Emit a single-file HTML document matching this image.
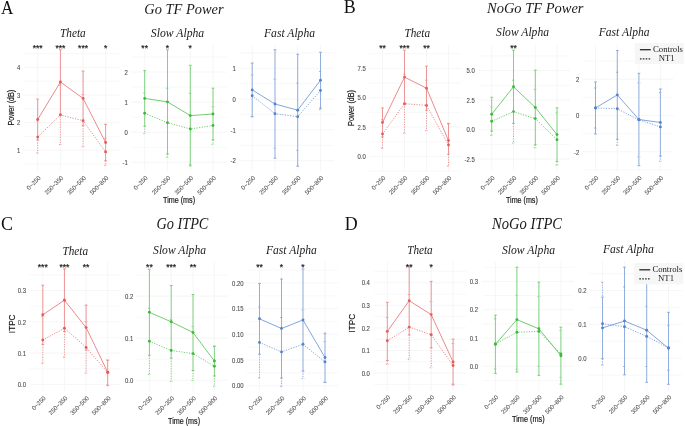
<!DOCTYPE html>
<html><head><meta charset="utf-8"><title>figure</title>
<style>
html,body{margin:0;padding:0;background:#fff;}
body{width:685px;height:426px;overflow:hidden;}
svg{display:block;will-change:transform;}
text{font-family:"Liberation Sans",sans-serif;}
.tk{font-size:6.4px;fill:#4d4d4d;stroke:#4d4d4d;stroke-width:0.1px;}
.xt{font-size:6.0px;fill:#4d4d4d;stroke:#4d4d4d;stroke-width:0.05px;}
.st{font-size:8.6px;fill:#222;stroke:#222;stroke-width:0.2px;}
.pt{font-family:"Liberation Serif",serif;font-style:italic;font-size:12.4px;fill:#1a1a1a;}
.mt{font-family:"Liberation Serif",serif;font-style:italic;font-size:15.2px;fill:#1a1a1a;}
.pl{font-family:"Liberation Serif",serif;font-size:17.9px;fill:#111;}
.at{font-size:8.2px;fill:#151515;stroke:#151515;stroke-width:0.18px;}
.lg{font-family:"Liberation Serif",serif;font-size:8.7px;fill:#1a1a1a;}
</style></head>
<body>
<svg width="685" height="426" viewBox="0 0 685 426">
<rect width="685" height="426" fill="#fff"/>
<line x1="24.1" x2="119.2" y1="164" y2="164" stroke="#f3f3f3" stroke-width="0.55"/>
<line x1="24.1" x2="119.2" y1="136.4" y2="136.4" stroke="#f3f3f3" stroke-width="0.55"/>
<line x1="24.1" x2="119.2" y1="108.8" y2="108.8" stroke="#f3f3f3" stroke-width="0.55"/>
<line x1="24.1" x2="119.2" y1="81.2" y2="81.2" stroke="#f3f3f3" stroke-width="0.55"/>
<line x1="24.1" x2="119.2" y1="53.6" y2="53.6" stroke="#f3f3f3" stroke-width="0.55"/>
<line x1="24.1" x2="119.2" y1="150.2" y2="150.2" stroke="#eeeeee" stroke-width="0.55"/>
<line x1="24.1" x2="119.2" y1="122.6" y2="122.6" stroke="#eeeeee" stroke-width="0.55"/>
<line x1="24.1" x2="119.2" y1="95" y2="95" stroke="#eeeeee" stroke-width="0.55"/>
<line x1="24.1" x2="119.2" y1="67.4" y2="67.4" stroke="#eeeeee" stroke-width="0.55"/>
<line x1="37.7" x2="37.7" y1="44.5" y2="171" stroke="#eeeeee" stroke-width="0.55"/>
<line x1="60.4" x2="60.4" y1="44.5" y2="171" stroke="#eeeeee" stroke-width="0.55"/>
<line x1="83.1" x2="83.1" y1="44.5" y2="171" stroke="#eeeeee" stroke-width="0.55"/>
<line x1="105.6" x2="105.6" y1="44.5" y2="171" stroke="#eeeeee" stroke-width="0.55"/>
<rect x="31" y="44" width="13.4" height="5.2" fill="#fff"/>
<rect x="53.7" y="44" width="13.4" height="5.2" fill="#fff"/>
<rect x="76.4" y="44" width="13.4" height="5.2" fill="#fff"/>
<rect x="102.3" y="44" width="6.6" height="5.2" fill="#fff"/>
<text x="20.3" y="152.9" class="tk" text-anchor="end" textLength="3.31" lengthAdjust="spacingAndGlyphs">1</text>
<text x="20.3" y="125.3" class="tk" text-anchor="end" textLength="3.31" lengthAdjust="spacingAndGlyphs">2</text>
<text x="20.3" y="97.7" class="tk" text-anchor="end" textLength="3.31" lengthAdjust="spacingAndGlyphs">3</text>
<text x="20.3" y="70.1" class="tk" text-anchor="end" textLength="3.31" lengthAdjust="spacingAndGlyphs">4</text>
<text class="xt" text-anchor="end" transform="translate(41,178.4) rotate(-45)">0~250</text>
<text class="xt" text-anchor="end" transform="translate(63.7,178.4) rotate(-45)">250~350</text>
<text class="xt" text-anchor="end" transform="translate(86.4,178.4) rotate(-45)">350~500</text>
<text class="xt" text-anchor="end" transform="translate(108.9,178.4) rotate(-45)">500~800</text>
<line x1="131" x2="226.7" y1="147.25" y2="147.25" stroke="#f3f3f3" stroke-width="0.55"/>
<line x1="131" x2="226.7" y1="117.15" y2="117.15" stroke="#f3f3f3" stroke-width="0.55"/>
<line x1="131" x2="226.7" y1="87.05" y2="87.05" stroke="#f3f3f3" stroke-width="0.55"/>
<line x1="131" x2="226.7" y1="56.95" y2="56.95" stroke="#f3f3f3" stroke-width="0.55"/>
<line x1="131" x2="226.7" y1="162.3" y2="162.3" stroke="#eeeeee" stroke-width="0.55"/>
<line x1="131" x2="226.7" y1="132.2" y2="132.2" stroke="#eeeeee" stroke-width="0.55"/>
<line x1="131" x2="226.7" y1="102.1" y2="102.1" stroke="#eeeeee" stroke-width="0.55"/>
<line x1="131" x2="226.7" y1="72" y2="72" stroke="#eeeeee" stroke-width="0.55"/>
<line x1="144.7" x2="144.7" y1="44.5" y2="171" stroke="#eeeeee" stroke-width="0.55"/>
<line x1="167.5" x2="167.5" y1="44.5" y2="171" stroke="#eeeeee" stroke-width="0.55"/>
<line x1="190.3" x2="190.3" y1="44.5" y2="171" stroke="#eeeeee" stroke-width="0.55"/>
<line x1="213" x2="213" y1="44.5" y2="171" stroke="#eeeeee" stroke-width="0.55"/>
<rect x="139.7" y="44" width="10" height="5.2" fill="#fff"/>
<rect x="164.2" y="44" width="6.6" height="5.2" fill="#fff"/>
<rect x="187" y="44" width="6.6" height="5.2" fill="#fff"/>
<text x="127.7" y="165" class="tk" text-anchor="end" textLength="5.29" lengthAdjust="spacingAndGlyphs">-1</text>
<text x="127.7" y="134.9" class="tk" text-anchor="end" textLength="3.31" lengthAdjust="spacingAndGlyphs">0</text>
<text x="127.7" y="104.8" class="tk" text-anchor="end" textLength="3.31" lengthAdjust="spacingAndGlyphs">1</text>
<text x="127.7" y="74.7" class="tk" text-anchor="end" textLength="3.31" lengthAdjust="spacingAndGlyphs">2</text>
<text class="xt" text-anchor="end" transform="translate(148,178.4) rotate(-45)">0~250</text>
<text class="xt" text-anchor="end" transform="translate(170.8,178.4) rotate(-45)">250~350</text>
<text class="xt" text-anchor="end" transform="translate(193.6,178.4) rotate(-45)">350~500</text>
<text class="xt" text-anchor="end" transform="translate(216.3,178.4) rotate(-45)">500~800</text>
<line x1="238.5" x2="334.2" y1="145.34" y2="145.34" stroke="#f3f3f3" stroke-width="0.55"/>
<line x1="238.5" x2="334.2" y1="114.51" y2="114.51" stroke="#f3f3f3" stroke-width="0.55"/>
<line x1="238.5" x2="334.2" y1="83.69" y2="83.69" stroke="#f3f3f3" stroke-width="0.55"/>
<line x1="238.5" x2="334.2" y1="52.85" y2="52.85" stroke="#f3f3f3" stroke-width="0.55"/>
<line x1="238.5" x2="334.2" y1="160.76" y2="160.76" stroke="#eeeeee" stroke-width="0.55"/>
<line x1="238.5" x2="334.2" y1="129.93" y2="129.93" stroke="#eeeeee" stroke-width="0.55"/>
<line x1="238.5" x2="334.2" y1="99.1" y2="99.1" stroke="#eeeeee" stroke-width="0.55"/>
<line x1="238.5" x2="334.2" y1="68.27" y2="68.27" stroke="#eeeeee" stroke-width="0.55"/>
<line x1="252.2" x2="252.2" y1="44.5" y2="171" stroke="#eeeeee" stroke-width="0.55"/>
<line x1="275" x2="275" y1="44.5" y2="171" stroke="#eeeeee" stroke-width="0.55"/>
<line x1="297.7" x2="297.7" y1="44.5" y2="171" stroke="#eeeeee" stroke-width="0.55"/>
<line x1="320.5" x2="320.5" y1="44.5" y2="171" stroke="#eeeeee" stroke-width="0.55"/>
<text x="235.7" y="163.46" class="tk" text-anchor="end" textLength="5.29" lengthAdjust="spacingAndGlyphs">-2</text>
<text x="235.7" y="132.63" class="tk" text-anchor="end" textLength="5.29" lengthAdjust="spacingAndGlyphs">-1</text>
<text x="235.7" y="101.8" class="tk" text-anchor="end" textLength="3.31" lengthAdjust="spacingAndGlyphs">0</text>
<text x="235.7" y="70.97" class="tk" text-anchor="end" textLength="3.31" lengthAdjust="spacingAndGlyphs">1</text>
<text class="xt" text-anchor="end" transform="translate(255.5,178.4) rotate(-45)">0~250</text>
<text class="xt" text-anchor="end" transform="translate(278.3,178.4) rotate(-45)">250~350</text>
<text class="xt" text-anchor="end" transform="translate(301,178.4) rotate(-45)">350~500</text>
<text class="xt" text-anchor="end" transform="translate(323.8,178.4) rotate(-45)">500~800</text>
<line x1="369.3" x2="461.7" y1="171.08" y2="171.08" stroke="#f3f3f3" stroke-width="0.55"/>
<line x1="369.3" x2="461.7" y1="141.72" y2="141.72" stroke="#f3f3f3" stroke-width="0.55"/>
<line x1="369.3" x2="461.7" y1="112.38" y2="112.38" stroke="#f3f3f3" stroke-width="0.55"/>
<line x1="369.3" x2="461.7" y1="83.03" y2="83.03" stroke="#f3f3f3" stroke-width="0.55"/>
<line x1="369.3" x2="461.7" y1="53.67" y2="53.67" stroke="#f3f3f3" stroke-width="0.55"/>
<line x1="369.3" x2="461.7" y1="156.4" y2="156.4" stroke="#eeeeee" stroke-width="0.55"/>
<line x1="369.3" x2="461.7" y1="127.05" y2="127.05" stroke="#eeeeee" stroke-width="0.55"/>
<line x1="369.3" x2="461.7" y1="97.7" y2="97.7" stroke="#eeeeee" stroke-width="0.55"/>
<line x1="369.3" x2="461.7" y1="68.35" y2="68.35" stroke="#eeeeee" stroke-width="0.55"/>
<line x1="382.5" x2="382.5" y1="44.5" y2="171" stroke="#eeeeee" stroke-width="0.55"/>
<line x1="404.5" x2="404.5" y1="44.5" y2="171" stroke="#eeeeee" stroke-width="0.55"/>
<line x1="426.5" x2="426.5" y1="44.5" y2="171" stroke="#eeeeee" stroke-width="0.55"/>
<line x1="448.5" x2="448.5" y1="44.5" y2="171" stroke="#eeeeee" stroke-width="0.55"/>
<rect x="377.5" y="44" width="10" height="5.2" fill="#fff"/>
<rect x="397.8" y="44" width="13.4" height="5.2" fill="#fff"/>
<rect x="421.5" y="44" width="10" height="5.2" fill="#fff"/>
<text x="365.8" y="159.1" class="tk" text-anchor="end" textLength="8.27" lengthAdjust="spacingAndGlyphs">0.0</text>
<text x="365.8" y="129.75" class="tk" text-anchor="end" textLength="8.27" lengthAdjust="spacingAndGlyphs">2.5</text>
<text x="365.8" y="100.4" class="tk" text-anchor="end" textLength="8.27" lengthAdjust="spacingAndGlyphs">5.0</text>
<text x="365.8" y="71.05" class="tk" text-anchor="end" textLength="8.27" lengthAdjust="spacingAndGlyphs">7.5</text>
<text class="xt" text-anchor="end" transform="translate(385.8,178.4) rotate(-45)">0~250</text>
<text class="xt" text-anchor="end" transform="translate(407.8,178.4) rotate(-45)">250~350</text>
<text class="xt" text-anchor="end" transform="translate(429.8,178.4) rotate(-45)">350~500</text>
<text class="xt" text-anchor="end" transform="translate(451.8,178.4) rotate(-45)">500~800</text>
<line x1="478.6" x2="570.1" y1="144.35" y2="144.35" stroke="#f3f3f3" stroke-width="0.55"/>
<line x1="478.6" x2="570.1" y1="114.85" y2="114.85" stroke="#f3f3f3" stroke-width="0.55"/>
<line x1="478.6" x2="570.1" y1="85.35" y2="85.35" stroke="#f3f3f3" stroke-width="0.55"/>
<line x1="478.6" x2="570.1" y1="55.85" y2="55.85" stroke="#f3f3f3" stroke-width="0.55"/>
<line x1="478.6" x2="570.1" y1="159.1" y2="159.1" stroke="#eeeeee" stroke-width="0.55"/>
<line x1="478.6" x2="570.1" y1="129.6" y2="129.6" stroke="#eeeeee" stroke-width="0.55"/>
<line x1="478.6" x2="570.1" y1="100.1" y2="100.1" stroke="#eeeeee" stroke-width="0.55"/>
<line x1="478.6" x2="570.1" y1="70.6" y2="70.6" stroke="#eeeeee" stroke-width="0.55"/>
<line x1="491.7" x2="491.7" y1="44.5" y2="171" stroke="#eeeeee" stroke-width="0.55"/>
<line x1="513.5" x2="513.5" y1="44.5" y2="171" stroke="#eeeeee" stroke-width="0.55"/>
<line x1="535.3" x2="535.3" y1="44.5" y2="171" stroke="#eeeeee" stroke-width="0.55"/>
<line x1="557" x2="557" y1="44.5" y2="171" stroke="#eeeeee" stroke-width="0.55"/>
<rect x="508.5" y="44" width="10" height="5.2" fill="#fff"/>
<text x="474.7" y="161.8" class="tk" text-anchor="end" textLength="10.26" lengthAdjust="spacingAndGlyphs">-2.5</text>
<text x="474.7" y="132.3" class="tk" text-anchor="end" textLength="8.27" lengthAdjust="spacingAndGlyphs">0.0</text>
<text x="474.7" y="102.8" class="tk" text-anchor="end" textLength="8.27" lengthAdjust="spacingAndGlyphs">2.5</text>
<text x="474.7" y="73.3" class="tk" text-anchor="end" textLength="8.27" lengthAdjust="spacingAndGlyphs">5.0</text>
<text class="xt" text-anchor="end" transform="translate(495,178.4) rotate(-45)">0~250</text>
<text class="xt" text-anchor="end" transform="translate(516.8,178.4) rotate(-45)">250~350</text>
<text class="xt" text-anchor="end" transform="translate(538.6,178.4) rotate(-45)">350~500</text>
<text class="xt" text-anchor="end" transform="translate(560.3,178.4) rotate(-45)">500~800</text>
<line x1="582.3" x2="673.4" y1="169.95" y2="169.95" stroke="#f3f3f3" stroke-width="0.55"/>
<line x1="582.3" x2="673.4" y1="133.65" y2="133.65" stroke="#f3f3f3" stroke-width="0.55"/>
<line x1="582.3" x2="673.4" y1="97.35" y2="97.35" stroke="#f3f3f3" stroke-width="0.55"/>
<line x1="582.3" x2="673.4" y1="61.05" y2="61.05" stroke="#f3f3f3" stroke-width="0.55"/>
<line x1="582.3" x2="673.4" y1="151.8" y2="151.8" stroke="#eeeeee" stroke-width="0.55"/>
<line x1="582.3" x2="673.4" y1="115.5" y2="115.5" stroke="#eeeeee" stroke-width="0.55"/>
<line x1="582.3" x2="673.4" y1="79.2" y2="79.2" stroke="#eeeeee" stroke-width="0.55"/>
<line x1="595.5" x2="595.5" y1="44.5" y2="171" stroke="#eeeeee" stroke-width="0.55"/>
<line x1="617.3" x2="617.3" y1="44.5" y2="171" stroke="#eeeeee" stroke-width="0.55"/>
<line x1="638.9" x2="638.9" y1="44.5" y2="171" stroke="#eeeeee" stroke-width="0.55"/>
<line x1="660.4" x2="660.4" y1="44.5" y2="171" stroke="#eeeeee" stroke-width="0.55"/>
<text x="579.2" y="154.5" class="tk" text-anchor="end" textLength="5.29" lengthAdjust="spacingAndGlyphs">-2</text>
<text x="579.2" y="118.2" class="tk" text-anchor="end" textLength="3.31" lengthAdjust="spacingAndGlyphs">0</text>
<text x="579.2" y="81.9" class="tk" text-anchor="end" textLength="3.31" lengthAdjust="spacingAndGlyphs">2</text>
<text class="xt" text-anchor="end" transform="translate(598.8,178.4) rotate(-45)">0~250</text>
<text class="xt" text-anchor="end" transform="translate(620.6,178.4) rotate(-45)">250~350</text>
<text class="xt" text-anchor="end" transform="translate(642.2,178.4) rotate(-45)">350~500</text>
<text class="xt" text-anchor="end" transform="translate(663.7,178.4) rotate(-45)">500~800</text>
<line x1="29.8" x2="120.7" y1="368.75" y2="368.75" stroke="#f3f3f3" stroke-width="0.55"/>
<line x1="29.8" x2="120.7" y1="337.45" y2="337.45" stroke="#f3f3f3" stroke-width="0.55"/>
<line x1="29.8" x2="120.7" y1="306.15" y2="306.15" stroke="#f3f3f3" stroke-width="0.55"/>
<line x1="29.8" x2="120.7" y1="274.85" y2="274.85" stroke="#f3f3f3" stroke-width="0.55"/>
<line x1="29.8" x2="120.7" y1="384.4" y2="384.4" stroke="#eeeeee" stroke-width="0.55"/>
<line x1="29.8" x2="120.7" y1="353.1" y2="353.1" stroke="#eeeeee" stroke-width="0.55"/>
<line x1="29.8" x2="120.7" y1="321.8" y2="321.8" stroke="#eeeeee" stroke-width="0.55"/>
<line x1="29.8" x2="120.7" y1="290.5" y2="290.5" stroke="#eeeeee" stroke-width="0.55"/>
<line x1="42.8" x2="42.8" y1="261.6" y2="391" stroke="#eeeeee" stroke-width="0.55"/>
<line x1="64.45" x2="64.45" y1="261.6" y2="391" stroke="#eeeeee" stroke-width="0.55"/>
<line x1="86.1" x2="86.1" y1="261.6" y2="391" stroke="#eeeeee" stroke-width="0.55"/>
<line x1="107.7" x2="107.7" y1="261.6" y2="391" stroke="#eeeeee" stroke-width="0.55"/>
<rect x="36.1" y="261.1" width="13.4" height="6.4" fill="#fff"/>
<rect x="57.75" y="261.1" width="13.4" height="6.4" fill="#fff"/>
<rect x="81.1" y="261.1" width="10" height="6.4" fill="#fff"/>
<text x="26" y="387.1" class="tk" text-anchor="end" textLength="8.27" lengthAdjust="spacingAndGlyphs">0.0</text>
<text x="26" y="355.8" class="tk" text-anchor="end" textLength="8.27" lengthAdjust="spacingAndGlyphs">0.1</text>
<text x="26" y="324.5" class="tk" text-anchor="end" textLength="8.27" lengthAdjust="spacingAndGlyphs">0.2</text>
<text x="26" y="293.2" class="tk" text-anchor="end" textLength="8.27" lengthAdjust="spacingAndGlyphs">0.3</text>
<text class="xt" text-anchor="end" transform="translate(46.1,398.6) rotate(-45)">0~250</text>
<text class="xt" text-anchor="end" transform="translate(67.75,398.6) rotate(-45)">250~350</text>
<text class="xt" text-anchor="end" transform="translate(89.4,398.6) rotate(-45)">350~500</text>
<text class="xt" text-anchor="end" transform="translate(111,398.6) rotate(-45)">500~800</text>
<line x1="136.1" x2="228.3" y1="359.25" y2="359.25" stroke="#f3f3f3" stroke-width="0.55"/>
<line x1="136.1" x2="228.3" y1="317.15" y2="317.15" stroke="#f3f3f3" stroke-width="0.55"/>
<line x1="136.1" x2="228.3" y1="275.05" y2="275.05" stroke="#f3f3f3" stroke-width="0.55"/>
<line x1="136.1" x2="228.3" y1="380.3" y2="380.3" stroke="#eeeeee" stroke-width="0.55"/>
<line x1="136.1" x2="228.3" y1="338.2" y2="338.2" stroke="#eeeeee" stroke-width="0.55"/>
<line x1="136.1" x2="228.3" y1="296.1" y2="296.1" stroke="#eeeeee" stroke-width="0.55"/>
<line x1="149.4" x2="149.4" y1="261.6" y2="391" stroke="#eeeeee" stroke-width="0.55"/>
<line x1="171.2" x2="171.2" y1="261.6" y2="391" stroke="#eeeeee" stroke-width="0.55"/>
<line x1="193" x2="193" y1="261.6" y2="391" stroke="#eeeeee" stroke-width="0.55"/>
<line x1="214.4" x2="214.4" y1="261.6" y2="391" stroke="#eeeeee" stroke-width="0.55"/>
<rect x="144.4" y="261.1" width="10" height="6.4" fill="#fff"/>
<rect x="164.5" y="261.1" width="13.4" height="6.4" fill="#fff"/>
<rect x="188" y="261.1" width="10" height="6.4" fill="#fff"/>
<text x="133.2" y="383" class="tk" text-anchor="end" textLength="8.27" lengthAdjust="spacingAndGlyphs">0.0</text>
<text x="133.2" y="340.9" class="tk" text-anchor="end" textLength="8.27" lengthAdjust="spacingAndGlyphs">0.1</text>
<text x="133.2" y="298.8" class="tk" text-anchor="end" textLength="8.27" lengthAdjust="spacingAndGlyphs">0.2</text>
<text class="xt" text-anchor="end" transform="translate(152.7,398.6) rotate(-45)">0~250</text>
<text class="xt" text-anchor="end" transform="translate(174.5,398.6) rotate(-45)">250~350</text>
<text class="xt" text-anchor="end" transform="translate(196.3,398.6) rotate(-45)">350~500</text>
<text class="xt" text-anchor="end" transform="translate(217.7,398.6) rotate(-45)">500~800</text>
<line x1="246.4" x2="338.1" y1="372.85" y2="372.85" stroke="#f3f3f3" stroke-width="0.55"/>
<line x1="246.4" x2="338.1" y1="347.15" y2="347.15" stroke="#f3f3f3" stroke-width="0.55"/>
<line x1="246.4" x2="338.1" y1="321.45" y2="321.45" stroke="#f3f3f3" stroke-width="0.55"/>
<line x1="246.4" x2="338.1" y1="295.75" y2="295.75" stroke="#f3f3f3" stroke-width="0.55"/>
<line x1="246.4" x2="338.1" y1="270.05" y2="270.05" stroke="#f3f3f3" stroke-width="0.55"/>
<line x1="246.4" x2="338.1" y1="385.7" y2="385.7" stroke="#eeeeee" stroke-width="0.55"/>
<line x1="246.4" x2="338.1" y1="360" y2="360" stroke="#eeeeee" stroke-width="0.55"/>
<line x1="246.4" x2="338.1" y1="334.3" y2="334.3" stroke="#eeeeee" stroke-width="0.55"/>
<line x1="246.4" x2="338.1" y1="308.6" y2="308.6" stroke="#eeeeee" stroke-width="0.55"/>
<line x1="246.4" x2="338.1" y1="282.9" y2="282.9" stroke="#eeeeee" stroke-width="0.55"/>
<line x1="259.5" x2="259.5" y1="261.6" y2="391" stroke="#eeeeee" stroke-width="0.55"/>
<line x1="281.5" x2="281.5" y1="261.6" y2="391" stroke="#eeeeee" stroke-width="0.55"/>
<line x1="303" x2="303" y1="261.6" y2="391" stroke="#eeeeee" stroke-width="0.55"/>
<line x1="325" x2="325" y1="261.6" y2="391" stroke="#eeeeee" stroke-width="0.55"/>
<rect x="254.5" y="261.1" width="10" height="6.4" fill="#fff"/>
<rect x="278.2" y="261.1" width="6.6" height="6.4" fill="#fff"/>
<rect x="299.7" y="261.1" width="6.6" height="6.4" fill="#fff"/>
<text x="243.7" y="388.4" class="tk" text-anchor="end" textLength="11.58" lengthAdjust="spacingAndGlyphs">0.00</text>
<text x="243.7" y="362.7" class="tk" text-anchor="end" textLength="11.58" lengthAdjust="spacingAndGlyphs">0.05</text>
<text x="243.7" y="337" class="tk" text-anchor="end" textLength="11.58" lengthAdjust="spacingAndGlyphs">0.10</text>
<text x="243.7" y="311.3" class="tk" text-anchor="end" textLength="11.58" lengthAdjust="spacingAndGlyphs">0.15</text>
<text x="243.7" y="285.6" class="tk" text-anchor="end" textLength="11.58" lengthAdjust="spacingAndGlyphs">0.20</text>
<text class="xt" text-anchor="end" transform="translate(262.8,398.6) rotate(-45)">0~250</text>
<text class="xt" text-anchor="end" transform="translate(284.8,398.6) rotate(-45)">250~350</text>
<text class="xt" text-anchor="end" transform="translate(306.3,398.6) rotate(-45)">350~500</text>
<text class="xt" text-anchor="end" transform="translate(328.3,398.6) rotate(-45)">500~800</text>
<line x1="374.1" x2="466.3" y1="384.4" y2="384.4" stroke="#f3f3f3" stroke-width="0.55"/>
<line x1="374.1" x2="466.3" y1="361.8" y2="361.8" stroke="#f3f3f3" stroke-width="0.55"/>
<line x1="374.1" x2="466.3" y1="339.2" y2="339.2" stroke="#f3f3f3" stroke-width="0.55"/>
<line x1="374.1" x2="466.3" y1="316.6" y2="316.6" stroke="#f3f3f3" stroke-width="0.55"/>
<line x1="374.1" x2="466.3" y1="294" y2="294" stroke="#f3f3f3" stroke-width="0.55"/>
<line x1="374.1" x2="466.3" y1="271.4" y2="271.4" stroke="#f3f3f3" stroke-width="0.55"/>
<line x1="374.1" x2="466.3" y1="373.1" y2="373.1" stroke="#eeeeee" stroke-width="0.55"/>
<line x1="374.1" x2="466.3" y1="350.5" y2="350.5" stroke="#eeeeee" stroke-width="0.55"/>
<line x1="374.1" x2="466.3" y1="327.9" y2="327.9" stroke="#eeeeee" stroke-width="0.55"/>
<line x1="374.1" x2="466.3" y1="305.3" y2="305.3" stroke="#eeeeee" stroke-width="0.55"/>
<line x1="374.1" x2="466.3" y1="282.7" y2="282.7" stroke="#eeeeee" stroke-width="0.55"/>
<line x1="387.3" x2="387.3" y1="261.6" y2="391" stroke="#eeeeee" stroke-width="0.55"/>
<line x1="409.2" x2="409.2" y1="261.6" y2="391" stroke="#eeeeee" stroke-width="0.55"/>
<line x1="431.2" x2="431.2" y1="261.6" y2="391" stroke="#eeeeee" stroke-width="0.55"/>
<line x1="453.1" x2="453.1" y1="261.6" y2="391" stroke="#eeeeee" stroke-width="0.55"/>
<rect x="404.2" y="261.1" width="10" height="6.4" fill="#fff"/>
<rect x="427.9" y="261.1" width="6.6" height="6.4" fill="#fff"/>
<text x="369.9" y="375.8" class="tk" text-anchor="end" textLength="8.27" lengthAdjust="spacingAndGlyphs">0.0</text>
<text x="369.9" y="353.2" class="tk" text-anchor="end" textLength="8.27" lengthAdjust="spacingAndGlyphs">0.1</text>
<text x="369.9" y="330.6" class="tk" text-anchor="end" textLength="8.27" lengthAdjust="spacingAndGlyphs">0.2</text>
<text x="369.9" y="308" class="tk" text-anchor="end" textLength="8.27" lengthAdjust="spacingAndGlyphs">0.3</text>
<text x="369.9" y="285.4" class="tk" text-anchor="end" textLength="8.27" lengthAdjust="spacingAndGlyphs">0.4</text>
<text class="xt" text-anchor="end" transform="translate(390.6,397.7) rotate(-45)">0~250</text>
<text class="xt" text-anchor="end" transform="translate(412.5,397.7) rotate(-45)">250~350</text>
<text class="xt" text-anchor="end" transform="translate(434.5,397.7) rotate(-45)">350~500</text>
<text class="xt" text-anchor="end" transform="translate(456.4,397.7) rotate(-45)">500~800</text>
<line x1="482.3" x2="574" y1="380.45" y2="380.45" stroke="#f3f3f3" stroke-width="0.55"/>
<line x1="482.3" x2="574" y1="352.15" y2="352.15" stroke="#f3f3f3" stroke-width="0.55"/>
<line x1="482.3" x2="574" y1="323.85" y2="323.85" stroke="#f3f3f3" stroke-width="0.55"/>
<line x1="482.3" x2="574" y1="295.55" y2="295.55" stroke="#f3f3f3" stroke-width="0.55"/>
<line x1="482.3" x2="574" y1="267.25" y2="267.25" stroke="#f3f3f3" stroke-width="0.55"/>
<line x1="482.3" x2="574" y1="366.3" y2="366.3" stroke="#eeeeee" stroke-width="0.55"/>
<line x1="482.3" x2="574" y1="338" y2="338" stroke="#eeeeee" stroke-width="0.55"/>
<line x1="482.3" x2="574" y1="309.7" y2="309.7" stroke="#eeeeee" stroke-width="0.55"/>
<line x1="482.3" x2="574" y1="281.4" y2="281.4" stroke="#eeeeee" stroke-width="0.55"/>
<line x1="495.4" x2="495.4" y1="261.6" y2="391" stroke="#eeeeee" stroke-width="0.55"/>
<line x1="516.9" x2="516.9" y1="261.6" y2="391" stroke="#eeeeee" stroke-width="0.55"/>
<line x1="538.9" x2="538.9" y1="261.6" y2="391" stroke="#eeeeee" stroke-width="0.55"/>
<line x1="560.9" x2="560.9" y1="261.6" y2="391" stroke="#eeeeee" stroke-width="0.55"/>
<text x="478" y="369" class="tk" text-anchor="end" textLength="8.27" lengthAdjust="spacingAndGlyphs">0.0</text>
<text x="478" y="340.7" class="tk" text-anchor="end" textLength="8.27" lengthAdjust="spacingAndGlyphs">0.1</text>
<text x="478" y="312.4" class="tk" text-anchor="end" textLength="8.27" lengthAdjust="spacingAndGlyphs">0.2</text>
<text x="478" y="284.1" class="tk" text-anchor="end" textLength="8.27" lengthAdjust="spacingAndGlyphs">0.3</text>
<text class="xt" text-anchor="end" transform="translate(498.7,397.7) rotate(-45)">0~250</text>
<text class="xt" text-anchor="end" transform="translate(520.2,397.7) rotate(-45)">250~350</text>
<text class="xt" text-anchor="end" transform="translate(542.2,397.7) rotate(-45)">350~500</text>
<text class="xt" text-anchor="end" transform="translate(564.2,397.7) rotate(-45)">500~800</text>
<line x1="589.3" x2="681.7" y1="375.12" y2="375.12" stroke="#f3f3f3" stroke-width="0.55"/>
<line x1="589.3" x2="681.7" y1="341.27" y2="341.27" stroke="#f3f3f3" stroke-width="0.55"/>
<line x1="589.3" x2="681.7" y1="307.43" y2="307.43" stroke="#f3f3f3" stroke-width="0.55"/>
<line x1="589.3" x2="681.7" y1="273.57" y2="273.57" stroke="#f3f3f3" stroke-width="0.55"/>
<line x1="589.3" x2="681.7" y1="358.2" y2="358.2" stroke="#eeeeee" stroke-width="0.55"/>
<line x1="589.3" x2="681.7" y1="324.35" y2="324.35" stroke="#eeeeee" stroke-width="0.55"/>
<line x1="589.3" x2="681.7" y1="290.5" y2="290.5" stroke="#eeeeee" stroke-width="0.55"/>
<line x1="602.5" x2="602.5" y1="261.6" y2="391" stroke="#eeeeee" stroke-width="0.55"/>
<line x1="624.5" x2="624.5" y1="261.6" y2="391" stroke="#eeeeee" stroke-width="0.55"/>
<line x1="646.7" x2="646.7" y1="261.6" y2="391" stroke="#eeeeee" stroke-width="0.55"/>
<line x1="668.5" x2="668.5" y1="261.6" y2="391" stroke="#eeeeee" stroke-width="0.55"/>
<text x="586.6" y="360.9" class="tk" text-anchor="end" textLength="8.27" lengthAdjust="spacingAndGlyphs">0.0</text>
<text x="586.6" y="327.05" class="tk" text-anchor="end" textLength="8.27" lengthAdjust="spacingAndGlyphs">0.1</text>
<text x="586.6" y="293.2" class="tk" text-anchor="end" textLength="8.27" lengthAdjust="spacingAndGlyphs">0.2</text>
<text class="xt" text-anchor="end" transform="translate(605.8,397.7) rotate(-45)">0~250</text>
<text class="xt" text-anchor="end" transform="translate(627.8,397.7) rotate(-45)">250~350</text>
<text class="xt" text-anchor="end" transform="translate(650,397.7) rotate(-45)">350~500</text>
<text class="xt" text-anchor="end" transform="translate(671.8,397.7) rotate(-45)">500~800</text>
<path d="M37.7 99.1V139.9M36.3 99.1H39.1M36.3 139.9H39.1M60.4 49.8V114.2M59 49.8H61.8M59 114.2H61.8M83.1 71.1V125.7M81.7 71.1H84.5M81.7 125.7H84.5M105.6 124.3V160.7M104.2 124.3H107M104.2 160.7H107" stroke="#eb8a8a" stroke-width="0.9" fill="none"/>
<path d="M37.7 139.9V153.1M36.3 121.1H39.1M36.3 153.1H39.1M60.4 114.2V144.6M59 85.2H61.8M59 144.6H61.8M83.1 125.7V146.8M81.7 94.6H84.5M81.7 146.8H84.5M105.6 160.7V165.4M104.2 138.4H107M104.2 165.4H107" stroke="#eb8a8a" stroke-width="0.9" fill="none" stroke-dasharray="1.2 1.3"/>
<polyline points="37.7,119.5 60.4,82 83.1,98.4 105.6,142.5" stroke="#e77575" stroke-width="0.85" fill="none"/>
<polyline points="37.7,137.1 60.4,114.9 83.1,120.7 105.6,151.9" stroke="#e77575" stroke-width="0.85" fill="none" stroke-dasharray="1.2 1.4"/>
<circle cx="37.7" cy="119.5" r="1.45" fill="#e35d5d"/>
<circle cx="60.4" cy="82" r="1.45" fill="#e35d5d"/>
<circle cx="83.1" cy="98.4" r="1.45" fill="#e35d5d"/>
<circle cx="105.6" cy="142.5" r="1.45" fill="#e35d5d"/>
<circle cx="37.7" cy="137.1" r="1.45" fill="#e35d5d"/>
<circle cx="60.4" cy="114.9" r="1.45" fill="#e35d5d"/>
<circle cx="83.1" cy="120.7" r="1.45" fill="#e35d5d"/>
<circle cx="105.6" cy="151.9" r="1.45" fill="#e35d5d"/>
<text x="37.7" y="51" class="st" text-anchor="middle">***</text>
<text x="60.4" y="51" class="st" text-anchor="middle">***</text>
<text x="83.1" y="51" class="st" text-anchor="middle">***</text>
<text x="105.6" y="51" class="st" text-anchor="middle">*</text>
<text x="60" y="37.3" class="pt" textLength="25.7" lengthAdjust="spacingAndGlyphs">Theta</text>
<path d="M144.7 70.6V126.2M143.3 70.6H146.1M143.3 126.2H146.1M167.5 49.8V154M166.1 49.8H168.9M166.1 154H168.9M190.3 65.3V165.9M188.9 65.3H191.7M188.9 165.9H191.7M213 88.2V139.8M211.6 88.2H214.4M211.6 139.8H214.4" stroke="#73cd73" stroke-width="0.9" fill="none"/>
<path d="M144.7 126.2V133.6M143.3 93H146.1M143.3 133.6H146.1M167.5 154V157.2M166.1 88.2H168.9M166.1 157.2H168.9M188.9 93.4H191.7M188.9 164.6H191.7M213 139.8V144.3M211.6 106.7H214.4M211.6 144.3H214.4" stroke="#73cd73" stroke-width="0.9" fill="none" stroke-dasharray="1.2 1.3"/>
<polyline points="144.7,98.4 167.5,101.9 190.3,115.6 213,114" stroke="#59c459" stroke-width="0.85" fill="none"/>
<polyline points="144.7,113.3 167.5,122.7 190.3,129 213,125.5" stroke="#59c459" stroke-width="0.85" fill="none" stroke-dasharray="1.2 1.4"/>
<circle cx="144.7" cy="98.4" r="1.45" fill="#3cba3c"/>
<circle cx="167.5" cy="101.9" r="1.45" fill="#3cba3c"/>
<circle cx="190.3" cy="115.6" r="1.45" fill="#3cba3c"/>
<circle cx="213" cy="114" r="1.45" fill="#3cba3c"/>
<circle cx="144.7" cy="113.3" r="1.45" fill="#3cba3c"/>
<circle cx="167.5" cy="122.7" r="1.45" fill="#3cba3c"/>
<circle cx="190.3" cy="129" r="1.45" fill="#3cba3c"/>
<circle cx="213" cy="125.5" r="1.45" fill="#3cba3c"/>
<text x="144.7" y="51" class="st" text-anchor="middle">**</text>
<text x="167.5" y="51" class="st" text-anchor="middle">*</text>
<text x="190.3" y="51" class="st" text-anchor="middle">*</text>
<text x="150.8" y="37.3" class="pt" textLength="53.4" lengthAdjust="spacingAndGlyphs">Slow Alpha</text>
<path d="M252.2 63V116.8M250.8 63H253.6M250.8 116.8H253.6M275 49.8V158.2M273.6 49.8H276.4M273.6 158.2H276.4M297.7 54.2V166.2M296.3 54.2H299.1M296.3 166.2H299.1M320.5 52.3V108.1M319.1 52.3H321.9M319.1 108.1H321.9" stroke="#85a6da" stroke-width="0.9" fill="none"/>
<path d="M250.8 75H253.6M250.8 116.4H253.6M273.6 79.2H276.4M273.6 148.2H276.4M296.3 83.1H299.1M296.3 150.3H299.1M320.5 108.1V109.6M319.1 71.4H321.9M319.1 109.6H321.9" stroke="#85a6da" stroke-width="0.9" fill="none" stroke-dasharray="1.2 1.3"/>
<polyline points="252.2,89.9 275,104 297.7,110.2 320.5,80.2" stroke="#6e96d4" stroke-width="0.85" fill="none"/>
<polyline points="252.2,95.7 275,113.7 297.7,116.7 320.5,90.5" stroke="#6e96d4" stroke-width="0.85" fill="none" stroke-dasharray="1.2 1.4"/>
<circle cx="252.2" cy="89.9" r="1.45" fill="#5584cc"/>
<circle cx="275" cy="104" r="1.45" fill="#5584cc"/>
<circle cx="297.7" cy="110.2" r="1.45" fill="#5584cc"/>
<circle cx="320.5" cy="80.2" r="1.45" fill="#5584cc"/>
<circle cx="252.2" cy="95.7" r="1.45" fill="#5584cc"/>
<circle cx="275" cy="113.7" r="1.45" fill="#5584cc"/>
<circle cx="297.7" cy="116.7" r="1.45" fill="#5584cc"/>
<circle cx="320.5" cy="90.5" r="1.45" fill="#5584cc"/>
<text x="264" y="37.3" class="pt" textLength="51" lengthAdjust="spacingAndGlyphs">Fast Alpha</text>
<path d="M382.5 108V137M381.1 108H383.9M381.1 137H383.9M404.5 50.2V104M403.1 50.2H405.9M403.1 104H405.9M426.5 66.2V110.2M425.1 66.2H427.9M425.1 110.2H427.9M448.5 123.4V154.3M447.1 123.4H449.9M447.1 154.3H449.9" stroke="#eb8a8a" stroke-width="0.9" fill="none"/>
<path d="M382.5 137V148.2M381.1 119.8H383.9M381.1 148.2H383.9M404.5 104V133.2M403.1 74.2H405.9M403.1 133.2H405.9M426.5 110.2V130.6M425.1 80.2H427.9M425.1 130.6H427.9M448.5 154.3V166.1M447.1 123.9H449.9M447.1 166.1H449.9" stroke="#eb8a8a" stroke-width="0.9" fill="none" stroke-dasharray="1.2 1.3"/>
<polyline points="382.5,122.5 404.5,77.1 426.5,88.2 448.5,140.6" stroke="#e77575" stroke-width="0.85" fill="none"/>
<polyline points="382.5,134 404.5,103.7 426.5,105.4 448.5,145" stroke="#e77575" stroke-width="0.85" fill="none" stroke-dasharray="1.2 1.4"/>
<circle cx="382.5" cy="122.5" r="1.45" fill="#e35d5d"/>
<circle cx="404.5" cy="77.1" r="1.45" fill="#e35d5d"/>
<circle cx="426.5" cy="88.2" r="1.45" fill="#e35d5d"/>
<circle cx="448.5" cy="140.6" r="1.45" fill="#e35d5d"/>
<circle cx="382.5" cy="134" r="1.45" fill="#e35d5d"/>
<circle cx="404.5" cy="103.7" r="1.45" fill="#e35d5d"/>
<circle cx="426.5" cy="105.4" r="1.45" fill="#e35d5d"/>
<circle cx="448.5" cy="145" r="1.45" fill="#e35d5d"/>
<text x="382.5" y="51" class="st" text-anchor="middle">**</text>
<text x="404.5" y="51" class="st" text-anchor="middle">***</text>
<text x="426.5" y="51" class="st" text-anchor="middle">**</text>
<text x="404.5" y="37" class="pt" textLength="25.6" lengthAdjust="spacingAndGlyphs">Theta</text>
<path d="M491.7 97.3V131.1M490.3 97.3H493.1M490.3 131.1H493.1M513.5 50.2V123.4M512.1 50.2H514.9M512.1 123.4H514.9M535.3 70.2V144.8M533.9 70.2H536.7M533.9 144.8H536.7M557 107.8V161.4M555.6 107.8H558.4M555.6 161.4H558.4" stroke="#73cd73" stroke-width="0.9" fill="none"/>
<path d="M491.7 131.1V135.5M490.3 107.1H493.1M490.3 135.5H493.1M513.5 123.4V143M512.1 80.2H514.9M512.1 143H514.9M535.3 144.8V147.8M533.9 89.4H536.7M533.9 147.8H536.7M557 161.4V165.2M555.6 112.8H558.4M555.6 165.2H558.4" stroke="#73cd73" stroke-width="0.9" fill="none" stroke-dasharray="1.2 1.3"/>
<polyline points="491.7,114.2 513.5,86.8 535.3,107.5 557,134.6" stroke="#59c459" stroke-width="0.85" fill="none"/>
<polyline points="491.7,121.3 513.5,111.6 535.3,118.6 557,139.7" stroke="#59c459" stroke-width="0.85" fill="none" stroke-dasharray="1.2 1.4"/>
<circle cx="491.7" cy="114.2" r="1.45" fill="#3cba3c"/>
<circle cx="513.5" cy="86.8" r="1.45" fill="#3cba3c"/>
<circle cx="535.3" cy="107.5" r="1.45" fill="#3cba3c"/>
<circle cx="557" cy="134.6" r="1.45" fill="#3cba3c"/>
<circle cx="491.7" cy="121.3" r="1.45" fill="#3cba3c"/>
<circle cx="513.5" cy="111.6" r="1.45" fill="#3cba3c"/>
<circle cx="535.3" cy="118.6" r="1.45" fill="#3cba3c"/>
<circle cx="557" cy="139.7" r="1.45" fill="#3cba3c"/>
<text x="513.5" y="51" class="st" text-anchor="middle">**</text>
<text x="496.1" y="36.3" class="pt" textLength="52.9" lengthAdjust="spacingAndGlyphs">Slow Alpha</text>
<path d="M595.5 82V134M594.1 82H596.9M594.1 134H596.9M617.3 50.5V139.3M615.9 50.5H618.7M615.9 139.3H618.7M638.9 73.3V165.7M637.5 73.3H640.3M637.5 165.7H640.3M660.4 89V156M659 89H661.8M659 156H661.8" stroke="#85a6da" stroke-width="0.9" fill="none"/>
<path d="M594.1 88H596.9M594.1 128H596.9M617.3 139.3V145.3M615.9 72.3H618.7M615.9 145.3H618.7M637.5 82.9H640.3M637.5 156.9H640.3M660.4 156V161.2M659 92.6H661.8M659 161.2H661.8" stroke="#85a6da" stroke-width="0.9" fill="none" stroke-dasharray="1.2 1.3"/>
<polyline points="595.5,108 617.3,94.9 638.9,119.5 660.4,122.5" stroke="#6e96d4" stroke-width="0.85" fill="none"/>
<polyline points="595.5,108 617.3,108.8 638.9,119.9 660.4,126.9" stroke="#6e96d4" stroke-width="0.85" fill="none" stroke-dasharray="1.2 1.4"/>
<circle cx="595.5" cy="108" r="1.45" fill="#5584cc"/>
<circle cx="617.3" cy="94.9" r="1.45" fill="#5584cc"/>
<circle cx="638.9" cy="119.5" r="1.45" fill="#5584cc"/>
<circle cx="660.4" cy="122.5" r="1.45" fill="#5584cc"/>
<circle cx="595.5" cy="108" r="1.45" fill="#5584cc"/>
<circle cx="617.3" cy="108.8" r="1.45" fill="#5584cc"/>
<circle cx="638.9" cy="119.9" r="1.45" fill="#5584cc"/>
<circle cx="660.4" cy="126.9" r="1.45" fill="#5584cc"/>
<text x="598.8" y="36.3" class="pt" textLength="50.7" lengthAdjust="spacingAndGlyphs">Fast Alpha</text>
<rect x="634.8" y="43.1" width="49" height="21" fill="#f6f6f6"/>
<line x1="639.9" x2="650.8" y1="49.7" y2="49.7" stroke="#2a2a2a" stroke-width="1.3"/>
<line x1="639.9" x2="650.8" y1="58.8" y2="58.8" stroke="#2a2a2a" stroke-width="1.25" stroke-dasharray="1.6 1.3"/>
<text x="653" y="51.8" class="lg">Controls</text>
<text x="658.7" y="60.9" class="lg">NT1</text>
<path d="M42.8 285.2V344.4M41.4 285.2H44.2M41.4 344.4H44.2M64.45 268.9V331.5M63.05 268.9H65.85M63.05 331.5H65.85M86.1 305.1V350.1M84.7 305.1H87.5M84.7 350.1H87.5M107.7 360.2V385.6M106.3 360.2H109.1M106.3 385.6H109.1" stroke="#eb8a8a" stroke-width="0.9" fill="none"/>
<path d="M42.8 344.4V363.4M41.4 316.6H44.2M41.4 363.4H44.2M64.45 331.5V357.2M63.05 299.2H65.85M63.05 357.2H65.85M86.1 350.1V373.1M84.7 321.7H87.5M84.7 373.1H87.5M106.3 360H109.1M106.3 385H109.1" stroke="#eb8a8a" stroke-width="0.9" fill="none" stroke-dasharray="1.2 1.3"/>
<polyline points="42.8,314.8 64.45,300.2 86.1,327.6 107.7,372.2" stroke="#e77575" stroke-width="0.85" fill="none"/>
<polyline points="42.8,340 64.45,328.2 86.1,347.4 107.7,372.5" stroke="#e77575" stroke-width="0.85" fill="none" stroke-dasharray="1.2 1.4"/>
<circle cx="42.8" cy="314.8" r="1.45" fill="#e35d5d"/>
<circle cx="64.45" cy="300.2" r="1.45" fill="#e35d5d"/>
<circle cx="86.1" cy="327.6" r="1.45" fill="#e35d5d"/>
<circle cx="107.7" cy="372.2" r="1.45" fill="#e35d5d"/>
<circle cx="42.8" cy="340" r="1.45" fill="#e35d5d"/>
<circle cx="64.45" cy="328.2" r="1.45" fill="#e35d5d"/>
<circle cx="86.1" cy="347.4" r="1.45" fill="#e35d5d"/>
<circle cx="107.7" cy="372.5" r="1.45" fill="#e35d5d"/>
<text x="42.8" y="270.2" class="st" text-anchor="middle">***</text>
<text x="64.45" y="270.2" class="st" text-anchor="middle">***</text>
<text x="86.1" y="270.2" class="st" text-anchor="middle">**</text>
<text x="62.5" y="254.8" class="pt" textLength="25.5" lengthAdjust="spacingAndGlyphs">Theta</text>
<path d="M149.4 269.3V355.3M148 269.3H150.8M148 355.3H150.8M171.2 285.5V358.1M169.8 285.5H172.6M169.8 358.1H172.6M193 294.5V370.5M191.6 294.5H194.4M191.6 370.5H194.4M214.4 346.1V375.9M213 346.1H215.8M213 375.9H215.8" stroke="#73cd73" stroke-width="0.9" fill="none"/>
<path d="M149.4 355.3V374.4M148 308.2H150.8M148 374.4H150.8M171.2 358.1V381.4M169.8 319.6H172.6M169.8 381.4H172.6M193 370.5V380.5M191.6 326.7H194.4M191.6 380.5H194.4M214.4 375.9V386.2M213 346.4H215.8M213 386.2H215.8" stroke="#73cd73" stroke-width="0.9" fill="none" stroke-dasharray="1.2 1.3"/>
<polyline points="149.4,312.3 171.2,321.8 193,332.5 214.4,361" stroke="#59c459" stroke-width="0.85" fill="none"/>
<polyline points="149.4,341.3 171.2,350.5 193,353.6 214.4,366.3" stroke="#59c459" stroke-width="0.85" fill="none" stroke-dasharray="1.2 1.4"/>
<circle cx="149.4" cy="312.3" r="1.45" fill="#3cba3c"/>
<circle cx="171.2" cy="321.8" r="1.45" fill="#3cba3c"/>
<circle cx="193" cy="332.5" r="1.45" fill="#3cba3c"/>
<circle cx="214.4" cy="361" r="1.45" fill="#3cba3c"/>
<circle cx="149.4" cy="341.3" r="1.45" fill="#3cba3c"/>
<circle cx="171.2" cy="350.5" r="1.45" fill="#3cba3c"/>
<circle cx="193" cy="353.6" r="1.45" fill="#3cba3c"/>
<circle cx="214.4" cy="366.3" r="1.45" fill="#3cba3c"/>
<text x="149.4" y="270.2" class="st" text-anchor="middle">**</text>
<text x="171.2" y="270.2" class="st" text-anchor="middle">***</text>
<text x="193" y="270.2" class="st" text-anchor="middle">**</text>
<text x="153.1" y="253.5" class="pt" textLength="52.9" lengthAdjust="spacingAndGlyphs">Slow Alpha</text>
<path d="M259.5 283.4V354.2M258.1 283.4H260.9M258.1 354.2H260.9M281.5 279V378M280.1 279H282.9M280.1 378H282.9M303 269V371M301.6 269H304.4M301.6 371H304.4M325 333.2V382.5M323.6 333.2H326.4M323.6 382.5H326.4" stroke="#85a6da" stroke-width="0.9" fill="none"/>
<path d="M259.5 354.2V378M258.1 307H260.9M258.1 378H260.9M281.5 378V386.3M280.1 317.5H282.9M280.1 386.3H282.9M303 371V378.6M301.6 310H304.4M301.6 378.6H304.4M323.6 341.7H326.4M323.6 382.1H326.4" stroke="#85a6da" stroke-width="0.9" fill="none" stroke-dasharray="1.2 1.3"/>
<polyline points="259.5,318.8 281.5,328.5 303,320 325,357.5" stroke="#6e96d4" stroke-width="0.85" fill="none"/>
<polyline points="259.5,342.5 281.5,351.9 303,344.3 325,361.9" stroke="#6e96d4" stroke-width="0.85" fill="none" stroke-dasharray="1.2 1.4"/>
<circle cx="259.5" cy="318.8" r="1.45" fill="#5584cc"/>
<circle cx="281.5" cy="328.5" r="1.45" fill="#5584cc"/>
<circle cx="303" cy="320" r="1.45" fill="#5584cc"/>
<circle cx="325" cy="357.5" r="1.45" fill="#5584cc"/>
<circle cx="259.5" cy="342.5" r="1.45" fill="#5584cc"/>
<circle cx="281.5" cy="351.9" r="1.45" fill="#5584cc"/>
<circle cx="303" cy="344.3" r="1.45" fill="#5584cc"/>
<circle cx="325" cy="361.9" r="1.45" fill="#5584cc"/>
<text x="259.5" y="270.2" class="st" text-anchor="middle">**</text>
<text x="281.5" y="270.2" class="st" text-anchor="middle">*</text>
<text x="303" y="270.2" class="st" text-anchor="middle">*</text>
<text x="266" y="253.5" class="pt" textLength="50.8" lengthAdjust="spacingAndGlyphs">Fast Alpha</text>
<path d="M387.3 302.3V360.5M385.9 302.3H388.7M385.9 360.5H388.7M409.2 266.6V334.8M407.8 266.6H410.6M407.8 334.8H410.6M431.2 281.4V347.8M429.8 281.4H432.6M429.8 347.8H432.6M453.1 339.1V384.9M451.7 339.1H454.5M451.7 384.9H454.5" stroke="#eb8a8a" stroke-width="0.9" fill="none"/>
<path d="M387.3 360.5V364.1M385.9 317.5H388.7M385.9 364.1H388.7M409.2 334.8V359.6M407.8 294.6H410.6M407.8 359.6H410.6M431.2 347.8V367.8M429.8 301.6H432.6M429.8 367.8H432.6M451.7 343.5H454.5M451.7 384H454.5" stroke="#eb8a8a" stroke-width="0.9" fill="none" stroke-dasharray="1.2 1.3"/>
<polyline points="387.3,331.4 409.2,300.7 431.2,314.6 453.1,362" stroke="#e77575" stroke-width="0.85" fill="none"/>
<polyline points="387.3,340.8 409.2,327.1 431.2,334.7 453.1,365.5" stroke="#e77575" stroke-width="0.85" fill="none" stroke-dasharray="1.2 1.4"/>
<circle cx="387.3" cy="331.4" r="1.45" fill="#e35d5d"/>
<circle cx="409.2" cy="300.7" r="1.45" fill="#e35d5d"/>
<circle cx="431.2" cy="314.6" r="1.45" fill="#e35d5d"/>
<circle cx="453.1" cy="362" r="1.45" fill="#e35d5d"/>
<circle cx="387.3" cy="340.8" r="1.45" fill="#e35d5d"/>
<circle cx="409.2" cy="327.1" r="1.45" fill="#e35d5d"/>
<circle cx="431.2" cy="334.7" r="1.45" fill="#e35d5d"/>
<circle cx="453.1" cy="365.5" r="1.45" fill="#e35d5d"/>
<text x="409.2" y="270.2" class="st" text-anchor="middle">**</text>
<text x="431.2" y="270.2" class="st" text-anchor="middle">*</text>
<text x="407.2" y="253.9" class="pt" textLength="25.5" lengthAdjust="spacingAndGlyphs">Theta</text>
<path d="M495.4 315.2V373.4M494 315.2H496.8M494 373.4H496.8M516.9 267.2V372M515.5 267.2H518.3M515.5 372H518.3M538.9 282.2V375.4M537.5 282.2H540.3M537.5 375.4H540.3M560.9 327.2V384.2M559.5 327.2H562.3M559.5 384.2H562.3" stroke="#73cd73" stroke-width="0.9" fill="none"/>
<path d="M494 318.8H496.8M494 369H496.8M515.5 295.4H518.3M515.5 369.2H518.3M537.5 296.6H540.3M537.5 366.2H540.3M559.5 330.6H562.3M559.5 377.4H562.3" stroke="#73cd73" stroke-width="0.9" fill="none" stroke-dasharray="1.2 1.3"/>
<polyline points="495.4,344.3 516.9,319.6 538.9,328.8 560.9,355.7" stroke="#59c459" stroke-width="0.85" fill="none"/>
<polyline points="495.4,343.9 516.9,332.3 538.9,331.4 560.9,354" stroke="#59c459" stroke-width="0.85" fill="none" stroke-dasharray="1.2 1.4"/>
<circle cx="495.4" cy="344.3" r="1.45" fill="#3cba3c"/>
<circle cx="516.9" cy="319.6" r="1.45" fill="#3cba3c"/>
<circle cx="538.9" cy="328.8" r="1.45" fill="#3cba3c"/>
<circle cx="560.9" cy="355.7" r="1.45" fill="#3cba3c"/>
<circle cx="495.4" cy="343.9" r="1.45" fill="#3cba3c"/>
<circle cx="516.9" cy="332.3" r="1.45" fill="#3cba3c"/>
<circle cx="538.9" cy="331.4" r="1.45" fill="#3cba3c"/>
<circle cx="560.9" cy="354" r="1.45" fill="#3cba3c"/>
<text x="501.9" y="254" class="pt" textLength="53.2" lengthAdjust="spacingAndGlyphs">Slow Alpha</text>
<path d="M602.5 297.1V358.7M601.1 297.1H603.9M601.1 358.7H603.9M624.5 267.2V374.8M623.1 267.2H625.9M623.1 374.8H625.9M646.7 278.1V382.3M645.3 278.1H648.1M645.3 382.3H648.1M668.5 312.3V384.3M667.1 312.3H669.9M667.1 384.3H669.9" stroke="#85a6da" stroke-width="0.9" fill="none"/>
<path d="M602.5 282.2V297.1M602.5 358.7V365.2M601.1 282.2H603.9M601.1 365.2H603.9M623.1 286.9H625.9M623.1 366.5H625.9M645.3 306.3H648.1M645.3 366.5H648.1M667.1 325.3H669.9M667.1 370.3H669.9" stroke="#85a6da" stroke-width="0.9" fill="none" stroke-dasharray="1.2 1.3"/>
<polyline points="602.5,327.9 624.5,321 646.7,330.2 668.5,348.3" stroke="#6e96d4" stroke-width="0.85" fill="none"/>
<polyline points="602.5,323.7 624.5,326.7 646.7,336.4 668.5,347.8" stroke="#6e96d4" stroke-width="0.85" fill="none" stroke-dasharray="1.2 1.4"/>
<circle cx="602.5" cy="327.9" r="1.45" fill="#5584cc"/>
<circle cx="624.5" cy="321" r="1.45" fill="#5584cc"/>
<circle cx="646.7" cy="330.2" r="1.45" fill="#5584cc"/>
<circle cx="668.5" cy="348.3" r="1.45" fill="#5584cc"/>
<circle cx="602.5" cy="323.7" r="1.45" fill="#5584cc"/>
<circle cx="624.5" cy="326.7" r="1.45" fill="#5584cc"/>
<circle cx="646.7" cy="336.4" r="1.45" fill="#5584cc"/>
<circle cx="668.5" cy="347.8" r="1.45" fill="#5584cc"/>
<text x="602.9" y="253.1" class="pt" textLength="51" lengthAdjust="spacingAndGlyphs">Fast Alpha</text>
<rect x="634.2" y="263.2" width="49.1" height="21.1" fill="#f6f6f6"/>
<line x1="639.3" x2="650.2" y1="269.8" y2="269.8" stroke="#2a2a2a" stroke-width="1.3"/>
<line x1="639.3" x2="650.2" y1="278.9" y2="278.9" stroke="#2a2a2a" stroke-width="1.25" stroke-dasharray="1.6 1.3"/>
<text x="652.4" y="271.9" class="lg">Controls</text>
<text x="658.1" y="281" class="lg">NT1</text>
<text class="pl" transform="translate(1.1,13.9) scale(0.96,1)">A</text>
<text x="343.8" y="12.7" class="pl">B</text>
<text x="1.0" y="230.0" class="pl">C</text>
<text x="344.8" y="230.0" class="pl">D</text>
<text x="144.3" y="13.7" class="mt" textLength="79.3" lengthAdjust="spacingAndGlyphs">Go TF Power</text>
<text x="487.0" y="12.7" class="mt" textLength="96.5" lengthAdjust="spacingAndGlyphs">NoGo TF Power</text>
<text x="156.4" y="228.6" class="mt" style="font-size:16px" textLength="52.0" lengthAdjust="spacingAndGlyphs">Go ITPC</text>
<text x="492.0" y="228.9" class="mt" style="font-size:15.8px" textLength="70.0" lengthAdjust="spacingAndGlyphs">NoGo ITPC</text>
<text x="163.0" y="203.2" class="at" textLength="32.1" lengthAdjust="spacingAndGlyphs">Time (ms)</text>
<text x="506.0" y="203.2" class="at" textLength="31.8" lengthAdjust="spacingAndGlyphs">Time (ms)</text>
<text x="168.0" y="423.6" class="at" textLength="32.1" lengthAdjust="spacingAndGlyphs">Time (ms)</text>
<text x="512.0" y="421.6" class="at" textLength="32.7" lengthAdjust="spacingAndGlyphs">Time (ms)</text>
<text class="at" text-anchor="middle" textLength="35.8" lengthAdjust="spacingAndGlyphs" transform="translate(14.2,107.7) rotate(-90)">Power (dB)</text>
<text class="at" text-anchor="middle" textLength="35.8" lengthAdjust="spacingAndGlyphs" transform="translate(354.3,108.0) rotate(-90)">Power (dB)</text>
<text class="at" text-anchor="middle" transform="translate(15.0,323.8) rotate(-90)">ITPC</text>
<text class="at" text-anchor="middle" transform="translate(354.8,323.1) rotate(-90)">ITPC</text>
</svg>
</body></html>
